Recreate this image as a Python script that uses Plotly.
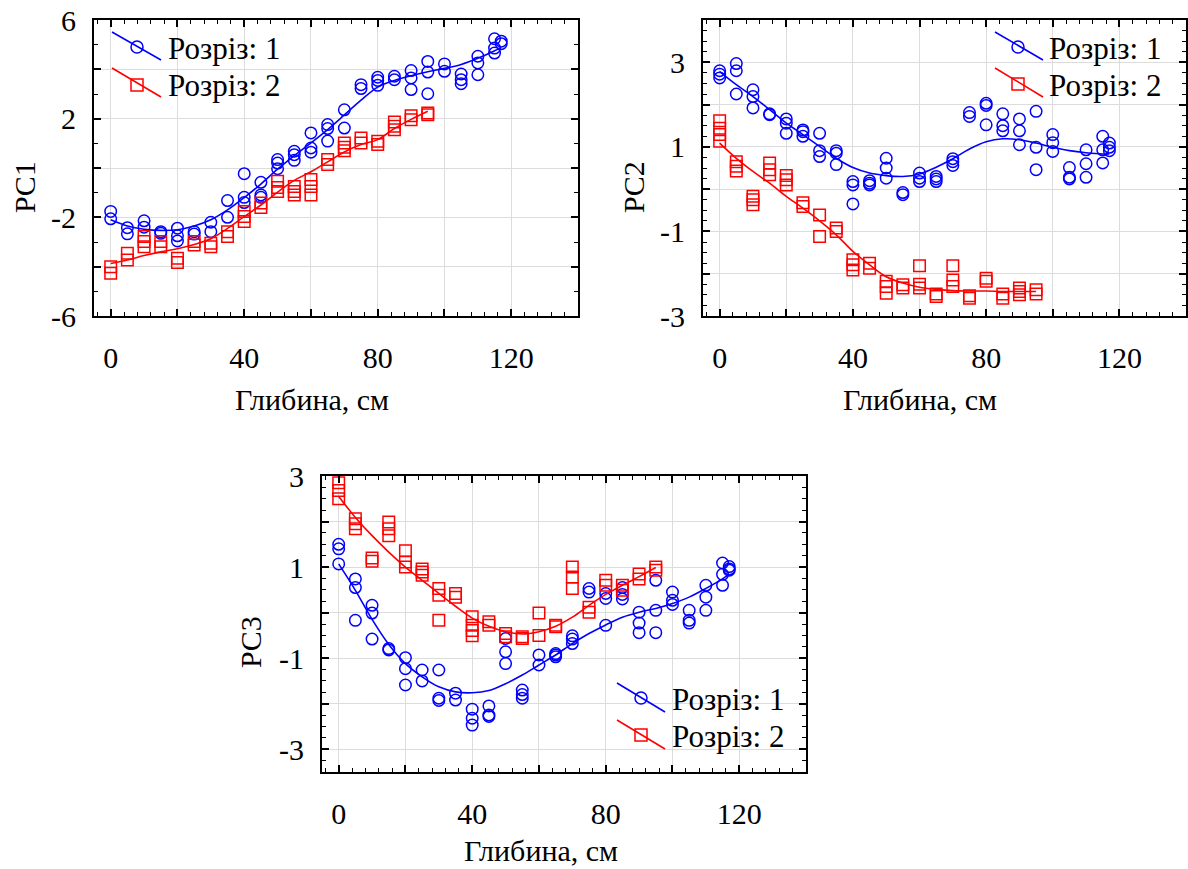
import plotly.graph_objects as go

W, H = 1188, 869
BLUE = "#0000FF"
RED = "#FF0000"
FONT = "Liberation Serif"

# ---------------- data ----------------
depth_r1 = [0, 5, 10, 15, 20, 25, 30, 35, 40, 45, 50, 55, 60, 65, 70, 75, 80, 85, 90, 95, 100, 105, 110, 115, 117]
depth_r2 = [0, 5, 10, 15, 20, 25, 30, 35, 40, 45, 50, 55, 60, 65, 70, 75, 80, 85, 90, 95]

# PC1
pc1_r1 = [[-1.76, -2.06], [-2.42, -2.67], [-2.14, -2.40], [-2.58, -2.65], [-2.44, -2.75, -2.96],
          [-2.58, -2.68], [-2.20, -2.58], [-1.32, -2.00], [-0.23, -1.19, -1.40], [-0.58, -1.09, -1.19],
          [0.34, 0.20, -0.03], [0.68, 0.54, 0.31], [1.42, 0.81, 0.64], [1.76, 1.60, 1.09], [2.36, 1.62],
          [3.38, 3.22], [3.68, 3.55, 3.35], [3.72, 3.58], [3.95, 3.65, 3.18], [4.32, 3.89, 3.01],
          [4.22, 3.92], [3.81, 3.58, 3.42], [4.53, 4.26, 3.78], [5.24, 4.86, 4.66], [5.14, 5.04]]
pc1_r2 = [[-4.00, -4.27], [-3.46, -3.73], [-2.78, -2.98, -3.19], [-2.98, -3.19], [-3.66, -3.83],
          [-2.98, -3.12], [-3.05, -3.19], [-2.58, -2.78], [-1.76, -1.97, -2.17], [-1.42, -1.60],
          [-0.54, -0.79, -0.95], [-0.75, -0.95, -1.09], [-0.47, -0.75, -1.09], [0.34, 0.14],
          [1.01, 0.84, 0.70], [1.22, 1.01], [1.08, 0.95], [1.86, 1.69, 1.55], [2.12, 1.96], [2.23, 2.16]]
pc1_fit_r1 = [-2.10, -2.35, -2.48, -2.53, -2.50, -2.35, -2.10, -1.70, -1.20, -0.65, -0.05, 0.50, 1.02,
              1.56, 2.15, 2.75, 3.28, 3.55, 3.74, 3.90, 4.04, 4.20, 4.45, 4.75, 4.88]
pc1_fit_r2 = [-3.87, -3.73, -3.55, -3.40, -3.27, -3.10, -2.87, -2.45, -1.97, -1.50, -0.98, -0.50, -0.15,
              0.25, 0.65, 0.95, 1.15, 1.60, 1.97, 2.30]

# PC2
pc2_r1 = [[2.80, 2.72, 2.63], [2.97, 2.80, 2.25], [2.35, 2.19, 1.92], [1.78, 1.76], [1.66, 1.56, 1.32],
          [1.40, 1.36, 1.25], [1.32, 0.91, 0.77], [0.91, 0.85, 0.58], [0.18, 0.10, -0.35], [0.20, 0.14, 0.10],
          [0.73, 0.50, 0.26], [-0.08, -0.13], [0.38, 0.26, 0.18], [0.30, 0.24, 0.18], [0.72, 0.65, 0.56],
          [1.81, 1.72], [2.03, 1.98, 1.52], [1.78, 1.50, 1.38], [1.66, 1.38, 1.05], [1.84, 0.99, 0.46],
          [1.29, 1.10, 0.89], [0.51, 0.28, 0.24], [0.93, 0.60, 0.28], [1.25, 0.93, 0.62], [1.09, 0.99, 0.91]]
pc2_r2 = [[1.62, 1.44, 1.29, 1.13], [0.65, 0.54, 0.43], [-0.17, -0.25, -0.37], [0.62, 0.46, 0.34],
          [0.32, 0.22, 0.10], [-0.32, -0.41], [-0.61, -1.12], [-0.92, -1.00], [-1.67, -1.79, -1.91],
          [-1.75, -1.87], [-2.18, -2.30, -2.46], [-2.26, -2.34], [-1.81, -2.25, -2.34], [-2.48, -2.54],
          [-1.81, -2.15, -2.30], [-2.52, -2.58], [-2.11, -2.18], [-2.48, -2.58], [-2.34, -2.42, -2.50],
          [-2.38, -2.48]]
pc2_fit_r1 = [2.78, 2.47, 2.19, 1.88, 1.56, 1.29, 1.01, 0.73, 0.51, 0.38, 0.32, 0.30, 0.36, 0.52, 0.72,
              0.95, 1.12, 1.19, 1.17, 1.09, 0.99, 0.91, 0.86, 0.83, 0.83]
pc2_fit_r2 = [1.09, 0.73, 0.42, 0.14, -0.17, -0.45, -0.75, -1.08, -1.47, -1.79, -2.07, -2.22, -2.32,
              -2.37, -2.40, -2.41, -2.41, -2.42, -2.42, -2.42]

# PC3
pc3_r1 = [[1.50, 1.40, 1.07], [0.74, 0.55, -0.17], [0.16, -0.01, -0.58], [-0.79, -0.82], [-0.99, -1.23, -1.59],
          [-1.26, -1.50], [-1.26, -1.88, -1.93], [-1.77, -1.92], [-2.12, -2.32, -2.47], [-2.05, -2.25, -2.28],
          [-0.57, -0.86, -1.12], [-1.70, -1.80, -1.88], [-0.93, -1.15], [-0.90, -0.93, -0.97],
          [-0.51, -0.58, -0.68], [0.53, 0.45], [0.42, 0.31, -0.28], [0.55, 0.40, 0.30], [0.01, -0.23, -0.44],
          [0.71, 0.05, -0.44], [0.45, 0.27, 0.18], [0.05, -0.17, -0.23], [0.60, 0.34, 0.05],
          [1.09, 0.84, 0.60], [1.01, 0.96, 0.93]]
pc3_r2 = [[2.85, 2.68, 2.50], [2.06, 1.95, 1.84], [1.20, 1.13], [1.99, 1.84, 1.69], [1.36, 1.11, 1.00],
          [0.96, 0.89, 0.82], [0.53, 0.38, -0.17], [0.42, 0.34], [-0.09, -0.28, -0.39, -0.51], [-0.20, -0.28],
          [-0.46, -0.53], [-0.53, -0.57], [-0.01, -0.50], [-0.28, -0.31], [1.00, 0.78, 0.53], [0.12, 0.01],
          [0.71, 0.60], [0.60, 0.49], [0.85, 0.74], [1.00, 0.93]]
pc3_fit_r1 = [1.07, 0.49, -0.15, -0.70, -1.12, -1.41, -1.63, -1.74, -1.76, -1.71, -1.56, -1.37, -1.15,
              -0.93, -0.68, -0.46, -0.27, -0.10, 0.01, 0.09, 0.20, 0.34, 0.53, 0.74, 0.85]
pc3_fit_r2 = [2.55, 2.09, 1.69, 1.33, 1.00, 0.71, 0.42, 0.14, -0.12, -0.30, -0.42, -0.47, -0.42, -0.30,
              -0.10, 0.16, 0.40, 0.60, 0.79, 0.99]

legend_labels = ["Розріз: 1", "Розріз: 2"]
x_title = "Глибина, см"
y_titles = ["PC1", "PC2", "PC3"]

x_tickvals = [0, 20, 40, 60, 80, 100, 120]
x_ticktext = ["0", "", "40", "", "80", "", "120"]
y1_tickvals = [-6, -4, -2, 0, 2, 4, 6]
y1_ticktext = ["-6", "", "-2", "", "2", "", "6"]
y2_tickvals = [-3, -2, -1, 0, 1, 2, 3, 4]
y2_ticktext = ["-3", "", "-1", "", "1", "", "3", ""]
y3_tickvals = [-3, -2, -1, 0, 1, 2, 3]
y3_ticktext = ["-3", "", "-1", "", "1", "", "3"]

# ---------------- figure ----------------
fig = go.Figure()


def flat(depths, groups):
    xs, ys = [], []
    for d, g in zip(depths, groups):
        for v in g:
            xs.append(d)
            ys.append(v)
    return xs, ys


def add_series(depths, groups, fit, color, symbol, xa, ya):
    fig.add_trace(go.Scatter(x=depths, y=fit, mode="lines", xaxis=xa, yaxis=ya,
                             line=dict(color=color, width=1.6, shape="spline", smoothing=1.0),
                             showlegend=False, hoverinfo="skip"))
    xs, ys = flat(depths, groups)
    fig.add_trace(go.Scatter(x=xs, y=ys, mode="markers", xaxis=xa, yaxis=ya,
                             marker=dict(symbol=symbol, size=11.5, color=color,
                                         line=dict(color=color, width=1.5)),
                             showlegend=False))


add_series(depth_r1, pc1_r1, pc1_fit_r1, BLUE, "circle-open", "x", "y")
add_series(depth_r2, pc1_r2, pc1_fit_r2, RED, "square-open", "x", "y")
add_series(depth_r1, pc2_r1, pc2_fit_r1, BLUE, "circle-open", "x2", "y2")
add_series(depth_r2, pc2_r2, pc2_fit_r2, RED, "square-open", "x2", "y2")
add_series(depth_r1, pc3_r1, pc3_fit_r1, BLUE, "circle-open", "x3", "y3")
add_series(depth_r2, pc3_r2, pc3_fit_r2, RED, "square-open", "x3", "y3")


def px(x):
    return x / W


def py(y):
    return 1 - y / H


tickfont = dict(family=FONT, size=30, color="black")


def xaxis(left, right, anchor):
    return dict(domain=[px(left), px(right)], range=[-5, 140], anchor=anchor, automargin=False,
                tickvals=x_tickvals, ticktext=x_ticktext, ticks="inside", ticklen=7,
                tickwidth=1.5, tickcolor="black", showline=True, linecolor="black",
                linewidth=2, mirror="ticks", showgrid=True, gridcolor="#dcdcdc", gridwidth=1,
                zeroline=False, tickfont=tickfont, ticklabelstandoff=14,
                minor=dict(dtick=4, tick0=0, ticks="inside", ticklen=4, tickwidth=1.2,
                           tickcolor="black", showgrid=False))


def yaxis(top, bottom, rng, tv, tt, mdt, anchor):
    return dict(domain=[py(bottom), py(top)], range=rng, anchor=anchor, automargin=False,
                tickvals=tv, ticktext=tt, ticks="inside", ticklen=7,
                tickwidth=1.5, tickcolor="black", showline=True, linecolor="black",
                linewidth=2, mirror="ticks", showgrid=True, gridcolor="#dcdcdc", gridwidth=1,
                zeroline=False, tickfont=tickfont, ticklabelstandoff=10,
                minor=dict(dtick=mdt, tick0=0, ticks="inside", ticklen=4, tickwidth=1.2,
                           tickcolor="black", showgrid=False))


shapes = []
annotations = []


def legend(items):
    for (lx0, ly0, lx1, ly1, mx, my, color, kind, text, tx) in items:
        shapes.append(dict(type="line", xref="paper", yref="paper",
                           x0=px(lx0), y0=py(ly0), x1=px(lx1), y1=py(ly1),
                           line=dict(color=color, width=1.6)))
        shapes.append(dict(type="circle" if kind == "c" else "rect", xref="paper", yref="paper",
                           xsizemode="pixel", ysizemode="pixel", xanchor=px(mx), yanchor=py(my),
                           x0=-6, x1=6, y0=-6, y1=6, line=dict(color=color, width=1.5)))
        annotations.append(dict(text=text, x=px(tx), y=py(my + 1), xref="paper", yref="paper",
                                xanchor="left", yanchor="middle", showarrow=False,
                                font=dict(family=FONT, size=31, color="black")))


legend([(112, 32, 161, 60, 137, 47, BLUE, "c", legend_labels[0], 166),
        (112, 68, 161, 97, 137, 85, RED, "s", legend_labels[1], 166)])
legend([(995, 32, 1043, 60, 1018, 47, BLUE, "c", legend_labels[0], 1047),
        (995, 68, 1043, 97, 1018, 84, RED, "s", legend_labels[1], 1047)])
legend([(617, 683, 665, 712, 641, 698, BLUE, "c", legend_labels[0], 670),
        (617, 720, 665, 749, 641, 735, RED, "s", legend_labels[1], 670)])

for (xc, yc) in [(312, 399), (920, 399), (541, 850)]:
    annotations.append(dict(text=x_title, x=px(xc), y=py(yc), xref="paper", yref="paper",
                            xanchor="center", yanchor="middle", showarrow=False,
                            font=dict(family=FONT, size=30, color="black")))
for (t, xc, yc) in [(y_titles[0], 24, 187), (y_titles[1], 633, 187), (y_titles[2], 250, 642)]:
    annotations.append(dict(text=t, x=px(xc), y=py(yc), xref="paper", yref="paper",
                            xanchor="center", yanchor="middle", showarrow=False, textangle=-90,
                            font=dict(family=FONT, size=30, color="black")))

fig.update_layout(
    width=W, height=H, margin=dict(l=0, r=0, t=0, b=0, autoexpand=False),
    paper_bgcolor="white", plot_bgcolor="white", showlegend=False,
    font=dict(family=FONT, size=30, color="black"),
    xaxis=xaxis(94, 578, "y"),
    yaxis=yaxis(20, 316, [-6, 6], y1_tickvals, y1_ticktext, 1, "x"),
    xaxis2=xaxis(703, 1186, "y2"),
    yaxis2=yaxis(20, 316, [-3, 4], y2_tickvals, y2_ticktext, 0.25, "x2"),
    xaxis3=xaxis(322, 806, "y3"),
    yaxis3=yaxis(476, 772, [-3.5, 3], y3_tickvals, y3_ticktext, 0.25, "x3"),
    shapes=shapes, annotations=annotations,
)

fig.write_html("out.html")
